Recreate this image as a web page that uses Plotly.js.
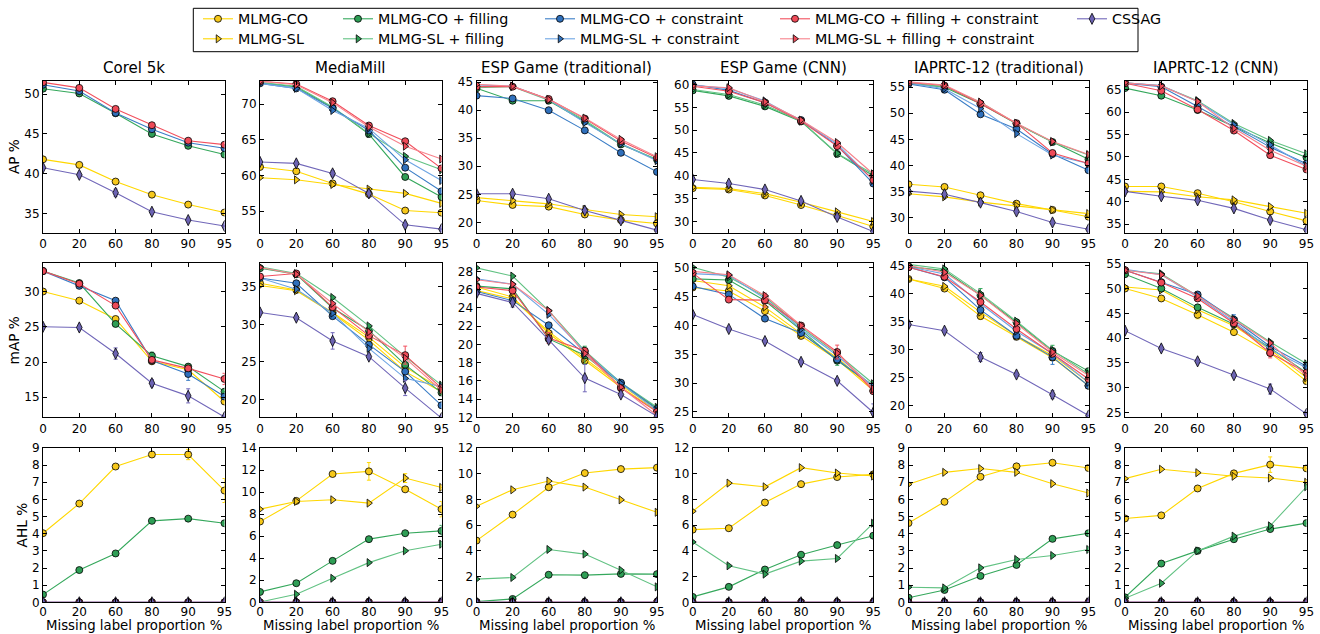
<!DOCTYPE html>
<html>
<head>
<meta charset="utf-8">
<script src="https://cdn.plot.ly/plotly-3.0.1.min.js"></script>
<style>html,body{margin:0;padding:0;background:#fff;}#chart{width:1320px;height:634px;}</style>
</head>
<body>
<div id="chart"></div>
<script>
// ---------------- DATA ----------------
const X_LABELS = ['0', '20', '60', '80', '90', '95'];
const X_TITLE = 'Missing label proportion %';
const SERIES = ['MLMG-CO', 'MLMG-SL', 'MLMG-CO + filling', 'MLMG-SL + filling',
  'MLMG-CO + constraint', 'MLMG-SL + constraint', 'MLMG-CO + filling + constraint',
  'MLMG-SL + filling + constraint', 'CSSAG'];
const DATASETS = ['Corel 5k', 'MediaMill', 'ESP Game (traditional)', 'ESP Game (CNN)',
  'IAPRTC-12 (traditional)', 'IAPRTC-12 (CNN)'];
const METRICS = ['AP %', 'mAP %', 'AHL %'];

// rows follow SERIES order; null = series not reported
const AP_COREL = [
  [41.8, 41.1, 39.0, 37.35, 36.1, 35.1], null,
  [50.7, 50.1, 47.6, 45.0, 43.5, 42.4], null,
  [51.2, 50.4, 47.65, 45.6, 43.9, 43.2], null,
  [51.5, 50.8, 48.15, 46.1, 44.15, 43.65], null,
  [40.75, 39.85, 37.6, 35.2, 34.15, 33.4]];
const AP_MEDIAMILL = [
  [61.2, 60.6, 58.9, 57.4, 55.1, 54.8],
  [59.7, 59.4, 58.75, 58.1, 57.5, 56.1],
  [73.0, 72.4, 69.5, 65.8, 59.8, 57.0],
  [73.0, 72.5, 69.6, 65.9, 62.7, 60.8],
  [72.9, 72.2, 69.4, 66.3, 61.1, 57.8],
  [72.9, 72.2, 69.1, 66.6, 62.2, 59.3],
  [73.2, 72.8, 70.4, 67.0, 64.8, 61.0],
  [73.2, 72.7, 70.2, 66.8, 64.1, 62.3],
  [61.9, 61.7, 60.3, 57.5, 53.1, 52.5]];
const AP_ESP_TRAD = [
  [23.9, 23.1, 22.8, 21.4, 20.4, 19.8],
  [24.4, 23.9, 23.3, 22.3, 21.4, 21.0],
  [43.9, 41.7, 41.7, 38.0, 33.9, 31.2],
  [44.0, 44.2, 41.8, 38.2, 34.0, 31.2],
  [42.6, 42.1, 40.0, 36.4, 32.4, 29.0],
  [44.5, 44.3, 41.9, 37.8, 34.0, 31.0],
  [44.2, 44.2, 42.0, 38.5, 34.5, 31.5],
  [44.6, 44.3, 41.9, 38.6, 34.8, 31.7],
  [25.1, 25.1, 24.2, 22.1, 20.35, 18.6]];
const AP_ESP_CNN = [
  [37.3, 37.0, 35.7, 33.6, 31.3, 28.9],
  [37.5, 37.2, 36.1, 34.2, 32.1, 30.0],
  [58.7, 57.5, 55.2, 51.9, 44.8, 40.0],
  [58.9, 57.8, 55.5, 52.0, 44.9, 40.4],
  [60.0, 58.7, 56.0, 52.2, 46.6, 38.3],
  [59.9, 59.1, 56.4, 52.0, 47.0, 39.0],
  [59.6, 58.5, 56.0, 52.0, 46.5, 39.1],
  [59.7, 59.3, 56.2, 52.2, 47.3, 40.4],
  [39.2, 38.3, 37.0, 34.5, 31.0, 27.8]];
const AP_IAP_TRAD = [
  [36.4, 35.9, 34.3, 32.7, 31.5, 30.2],
  [34.6, 34.0, 33.0, 32.3, 31.5, 30.8],
  [55.8, 55.0, 51.8, 48.0, 44.5, 41.2],
  [55.6, 55.1, 52.1, 48.0, 44.5, 42.0],
  [55.6, 54.5, 49.8, 47.0, 42.2, 39.1],
  [55.8, 54.7, 50.9, 46.1, 42.0, 40.4],
  [55.9, 55.3, 51.8, 48.1, 42.4, 40.4],
  [56.0, 55.4, 52.1, 48.1, 44.6, 42.1],
  [35.1, 34.5, 32.9, 31.2, 29.1, 27.8]];
const AP_IAP_CNN = [
  [43.4, 43.4, 41.9, 40.0, 37.8, 35.7],
  [42.3, 42.2, 41.1, 40.4, 38.9, 37.4],
  [65.4, 63.7, 60.5, 56.8, 53.1, 49.9],
  [66.6, 65.9, 62.6, 57.5, 53.7, 50.7],
  [66.5, 65.7, 61.3, 56.8, 52.2, 48.5],
  [66.6, 66.0, 62.4, 57.2, 52.7, 48.0],
  [66.5, 64.8, 60.6, 55.9, 50.4, 47.2],
  [66.6, 65.9, 62.4, 56.4, 51.5, 47.9],
  [42.3, 41.2, 40.3, 38.5, 35.9, 33.7]];

const MAP_COREL = [
  [30.0, 28.7, 26.1, 20.1, 18.9, 14.4], null,
  [32.9, 31.2, 25.4, 20.9, 19.35, 15.8], null,
  [32.9, 30.8, 28.7, 20.2, 18.3, 15.1], null,
  [32.9, 31.1, 28.0, 20.3, 19.1, 17.6], null,
  [25.0, 24.9, 21.2, 17.0, 15.2, 12.2]];
const MAP_MEDIAMILL = [
  [35.5, 34.6, 31.6, 28.3, 24.3, 21.4],
  [35.2, 34.5, 31.5, 27.9, 23.7, 21.0],
  [37.5, 36.7, 32.2, 29.2, 24.6, 20.9],
  [37.7, 36.8, 33.6, 29.8, 25.7, 21.9],
  [36.2, 35.5, 31.1, 27.3, 23.7, 19.2],
  [36.2, 34.7, 31.5, 26.8, 22.8, 21.7],
  [36.4, 36.8, 32.3, 28.5, 25.9, 21.5],
  [37.6, 36.7, 32.8, 29.0, 25.5, 21.2],
  [31.6, 30.9, 27.8, 25.7, 21.5, 17.5]];
const MAP_ESP_TRAD = [
  [26.3, 25.2, 21.2, 18.2, 15.3, 12.7],
  [25.9, 25.0, 21.4, 18.4, 15.5, 12.9],
  [26.4, 26.1, 20.6, 18.8, 15.7, 13.0],
  [28.4, 27.5, 23.7, 19.3, 15.8, 13.1],
  [25.8, 24.8, 22.1, 19.0, 15.8, 12.9],
  [27.2, 26.6, 23.3, 19.2, 15.7, 12.7],
  [26.3, 25.9, 20.7, 19.3, 15.2, 12.6],
  [27.1, 26.6, 23.7, 19.0, 15.3, 12.2],
  [25.6, 24.6, 20.5, 16.3, 14.5, 12.1]];
const MAP_ESP_CNN = [
  [46.6, 46.0, 42.5, 38.2, 34.1, 28.7],
  [47.8, 46.9, 43.2, 38.6, 34.4, 29.0],
  [48.1, 47.9, 44.3, 39.2, 33.9, 29.6],
  [50.1, 48.4, 45.0, 39.7, 35.1, 29.9],
  [46.8, 45.4, 41.2, 38.7, 34.1, 29.4],
  [49.0, 48.7, 44.7, 39.4, 34.8, 29.4],
  [49.1, 44.5, 44.4, 40.0, 35.4, 28.6],
  [49.4, 48.8, 45.2, 40.0, 35.2, 29.0],
  [41.9, 39.4, 37.3, 33.7, 30.4, 24.9]];
const MAP_IAP_TRAD = [
  [42.6, 40.9, 36.0, 32.3, 28.6, 23.6],
  [42.6, 41.3, 36.7, 32.5, 29.0, 24.2],
  [44.8, 44.1, 39.7, 34.9, 29.8, 26.2],
  [45.2, 44.4, 40.0, 35.1, 29.9, 25.7],
  [44.7, 42.9, 37.1, 32.5, 28.7, 23.6],
  [44.8, 43.5, 38.2, 33.3, 29.3, 24.2],
  [44.7, 43.0, 38.5, 33.7, 29.3, 24.8],
  [45.0, 43.8, 39.7, 34.7, 29.6, 25.4],
  [34.5, 33.4, 28.7, 25.6, 22.0, 18.3]];
const MAP_IAP_CNN = [
  [50.0, 48.0, 44.7, 41.2, 37.0, 31.3],
  [50.3, 49.7, 45.7, 42.5, 37.7, 32.0],
  [52.9, 50.0, 46.2, 42.8, 38.0, 33.0],
  [53.7, 53.0, 48.5, 44.0, 39.2, 34.8],
  [53.7, 51.3, 48.8, 43.7, 38.3, 34.3],
  [53.9, 52.8, 48.3, 43.3, 37.7, 34.0],
  [53.7, 51.2, 48.0, 43.0, 37.0, 33.0],
  [53.7, 52.8, 48.5, 43.7, 39.0, 32.3],
  [41.5, 37.9, 35.3, 32.5, 29.7, 24.7]];

const ZEROS = [0, 0, 0, 0, 0, 0];
const AHL_COREL = [
  [4.03, 5.76, 7.92, 8.62, 8.62, 6.52], null,
  [0.45, 1.88, 2.85, 4.75, 4.88, 4.61], null,
  ZEROS, null, ZEROS, null, ZEROS];
const AHL_MEDIAMILL = [
  [7.33, 9.2, 11.64, 11.88, 10.25, 8.45],
  [8.45, 9.15, 9.3, 9.0, 11.27, 10.42],
  [0.94, 1.73, 3.76, 5.73, 6.27, 6.48],
  [0.03, 0.73, 2.18, 3.6, 4.67, 5.27],
  ZEROS, ZEROS, ZEROS, ZEROS, ZEROS];
const AHL_ESP_TRAD = [
  [4.8, 6.82, 8.95, 10.05, 10.36, 10.47],
  [7.47, 8.75, 9.43, 8.96, 7.97, 7.0],
  [0.05, 0.26, 2.14, 2.11, 2.21, 2.19],
  [1.8, 1.93, 4.11, 3.75, 2.5, 1.2],
  ZEROS, ZEROS, ZEROS, ZEROS, ZEROS];
const AHL_ESP_CNN = [
  [5.65, 5.76, 7.76, 9.19, 9.74, 9.95],
  [7.08, 9.27, 8.98, 10.47, 10.05, 9.82],
  [0.42, 1.2, 2.55, 3.7, 4.45, 5.18],
  [4.69, 2.84, 2.19, 3.2, 3.41, 6.15],
  ZEROS, ZEROS, ZEROS, ZEROS, ZEROS];
const AHL_IAP_TRAD = [
  [4.62, 5.86, 7.32, 7.93, 8.14, 7.83],
  [6.88, 7.58, 7.8, 7.58, 6.92, 6.37],
  [0.27, 0.72, 1.54, 2.18, 3.7, 4.03],
  [0.88, 0.84, 2.01, 2.5, 2.73, 3.08],
  ZEROS, ZEROS, ZEROS, ZEROS, ZEROS];
const AHL_IAP_CNN = [
  [4.89, 5.07, 6.64, 7.52, 8.03, 7.81],
  [7.21, 7.76, 7.56, 7.35, 7.25, 7.0],
  [0.29, 2.26, 3.0, 3.68, 4.27, 4.62],
  [0.23, 1.11, 3.0, 3.86, 4.46, 6.74],
  ZEROS, ZEROS, ZEROS, ZEROS, ZEROS];

// visible error bars: [metric, dataset, series, point, half-length]
const ERROR_BARS = [
  [0, 0, 8, 2, 0.45], [0, 1, 8, 2, 0.4],
  [1, 0, 8, 2, 0.8], [1, 0, 8, 4, 1.0], [1, 0, 4, 4, 0.9], [1, 0, 6, 5, 0.8], [1, 0, 2, 3, 0.5], [1, 0, 8, 3, 0.5],
  [1, 1, 8, 2, 1.1], [1, 1, 8, 4, 1.0], [1, 1, 6, 4, 1.2],
  [1, 2, 8, 3, 1.5], [1, 2, 2, 3, 1.0], [1, 2, 6, 2, 0.6], [1, 2, 8, 1, 0.5],
  [1, 3, 6, 2, 1.2], [1, 3, 6, 4, 1.2], [1, 3, 8, 5, 1.5], [1, 3, 2, 4, 0.8],
  [1, 4, 2, 2, 1.2], [1, 4, 2, 4, 1.0], [1, 4, 4, 4, 1.3], [1, 4, 8, 2, 0.8], [1, 4, 8, 4, 0.7], [1, 4, 0, 2, 0.6],
  [1, 5, 4, 3, 1.0], [1, 5, 6, 4, 1.0], [1, 5, 8, 4, 1.0], [1, 5, 0, 2, 0.8],
  [2, 0, 0, 4, 0.3], [2, 0, 0, 5, 0.7],
  [2, 1, 0, 3, 0.8], [2, 1, 1, 4, 0.4], [2, 1, 0, 5, 0.7], [2, 1, 2, 5, 0.5],
  [2, 5, 0, 4, 0.45]];

const PANELS = [
  [AP_COREL, AP_MEDIAMILL, AP_ESP_TRAD, AP_ESP_CNN, AP_IAP_TRAD, AP_IAP_CNN],
  [MAP_COREL, MAP_MEDIAMILL, MAP_ESP_TRAD, MAP_ESP_CNN, MAP_IAP_TRAD, MAP_IAP_CNN],
  [AHL_COREL, AHL_MEDIAMILL, AHL_ESP_TRAD, AHL_ESP_CNN, AHL_IAP_TRAD, AHL_IAP_CNN]];

// ---------------- STYLE / LAYOUT ----------------
const W = 1320, H = 634;
const FONT = 'DejaVu Sans, Liberation Sans, sans-serif';
const LINE_COL = ['#FFD700', '#FFD700', '#35A85C', '#62C283', '#3A7DC6', '#6EA5E3', '#F2505E', '#F7838C', '#7167B9'];
const MARK_COL = ['#F7C81A', '#F7C81A', '#2E9E55', '#2E9E55', '#2F70BC', '#2F70BC', '#EE4A58', '#EE4A58', '#6C63B3'];
const SYMBOL = ['circle', 'triangle-right', 'circle', 'triangle-right', 'circle', 'triangle-right', 'circle', 'triangle-right', 'diamond-tall'];
// legend slot of each series: [left px of symbol, centre y px]
const LEGEND_POS = [[203, 19], [203, 39], [343, 19], [343, 39], [545, 19], [545, 39], [780, 19], [780, 39], [1077, 19]];

const COLS = [[43, 224.5], [260, 441.5], [476.5, 657], [692.7, 873.3], [908.5, 1088.5], [1125, 1306.5]];
const ROWS = [[80.5, 232.7], [263.3, 417.3], [448, 602.3]];
const YRANGE = [
  [[32.56, 51.73, 5], [52.0, 73.3, 5], [18.15, 45.3, 5], [27.54, 60.87, 5], [27.14, 56.27, 5], [33.06, 67.1, 5]],
  [[12.16, 34.0, 5], [17.6, 38.16, 5], [12.0, 28.9, 2], [24.07, 50.8, 5], [17.98, 45.4, 5], [24.0, 55.1, 5]],
  [[0, 9, 1], [0, 14, 2], [0, 12, 2], [0, 12, 2], [0, 9, 1], [0, 9, 1]]];

const xIdx = X_LABELS.map((_, i) => i);
const traces = [];
const layout = {
  width: W, height: H,
  margin: {l: 0, r: 0, t: 0, b: 0},
  paper_bgcolor: '#fff', plot_bgcolor: '#fff',
  font: {family: FONT, size: 12, color: '#000'},
  showlegend: true,
  annotations: [], shapes: []
};

const axisBase = {
  ticks: 'inside', ticklen: 4, tickwidth: 1, tickcolor: '#000',
  mirror: 'ticks', showline: true, linecolor: '#000', linewidth: 1,
  showgrid: false, zeroline: false, automargin: false,
  tickfont: {family: FONT, size: 12, color: '#000'}
};
const legName = s => s === 0 ? 'legend' : 'legend' + (s + 1);

for (let r = 0; r < 3; r++) {
  for (let c = 0; c < 6; c++) {
    const k = r * 6 + c + 1;
    const sfx = k === 1 ? '' : String(k);
    const xa = 'xaxis' + sfx, ya = 'yaxis' + sfx;
    layout[xa] = Object.assign({}, axisBase, {
      domain: [COLS[c][0] / W, COLS[c][1] / W], anchor: 'y' + sfx,
      range: [0, X_LABELS.length - 1], tickmode: 'array', tickvals: xIdx, ticktext: X_LABELS
    });
    if (r === 2) {
      layout[xa].ticklabelstandoff = -2;
      layout.annotations.push({
        text: X_TITLE, xref: 'paper', yref: 'paper',
        x: (COLS[c][0] + COLS[c][1]) / 2 / W, y: 0, xanchor: 'center', yanchor: 'bottom',
        showarrow: false, borderpad: 0,
        font: {family: FONT, size: 13.3, color: '#000', weight: 'normal'}
      });
    }
    const yr = YRANGE[r][c];
    layout[ya] = Object.assign({}, axisBase, {
      domain: [1 - ROWS[r][1] / H, 1 - ROWS[r][0] / H], anchor: 'x' + sfx,
      range: [yr[0], yr[1]], tick0: 0, dtick: yr[2]
    });
    if (c === 0) layout[ya].title = {text: METRICS[r], font: {family: FONT, size: 13.7, weight: 'normal'}, standoff: 1};

    const panel = PANELS[r][c];
    panel.forEach((vals, s) => {
      if (!vals) return;
      const errs = xIdx.map(() => 0);
      let hasErr = false;
      ERROR_BARS.forEach(e => {
        if (e[0] === r && e[1] === c && e[2] === s) { errs[e[3]] = e[4]; hasErr = true; }
      });
      const showLeg = (r === 0 && c === 1);
      const t = {
        type: 'scatter', mode: 'lines+markers',
        x: xIdx, y: vals, xaxis: 'x' + sfx, yaxis: 'y' + sfx,
        name: SERIES[s], showlegend: showLeg, legend: legName(s),
        line: {color: LINE_COL[s], width: 1.1},
        marker: {symbol: SYMBOL[s], size: s === 8 ? 8 : 7, color: MARK_COL[s], line: {color: '#000', width: 0.8}},
        hoverinfo: 'skip'
      };
      if (hasErr) t.error_y = {type: 'data', array: errs, visible: true, color: LINE_COL[s], thickness: 1, width: 2};
      traces.push(t);
    });
    if (r === 0) {
      layout.annotations.push({
        text: DATASETS[c], xref: 'paper', yref: 'paper',
        x: (COLS[c][0] + COLS[c][1]) / 2 / W, y: 1 - 79 / H,
        xanchor: 'center', yanchor: 'bottom', showarrow: false,
        font: {family: FONT, size: 15, color: '#000', weight: 'normal'}
      });
    }
  }
}

// one legend per series, placed in a 5 x 2 grid inside one framed box
SERIES.forEach((_, s) => {
  layout[legName(s)] = {
    x: (LEGEND_POS[s][0] - 5) / W, y: 1 - LEGEND_POS[s][1] / H, xanchor: 'left', yanchor: 'middle',
    orientation: 'v', bgcolor: 'rgba(0,0,0,0)', borderwidth: 0,
    font: {family: FONT, size: 14.3, color: '#000'}, tracegroupgap: 0, itemwidth: 30
  };
});
layout.shapes.push({
  type: 'rect', xref: 'paper', yref: 'paper',
  x0: 193.3 / W, x1: 1138 / W, y0: 1 - 51.7 / H, y1: 1 - 8.3 / H,
  line: {color: '#000', width: 1}, fillcolor: 'rgba(0,0,0,0)'
});

Plotly.newPlot('chart', traces, layout, {displayModeBar: false, staticPlot: true});
</script>
</body>
</html>
